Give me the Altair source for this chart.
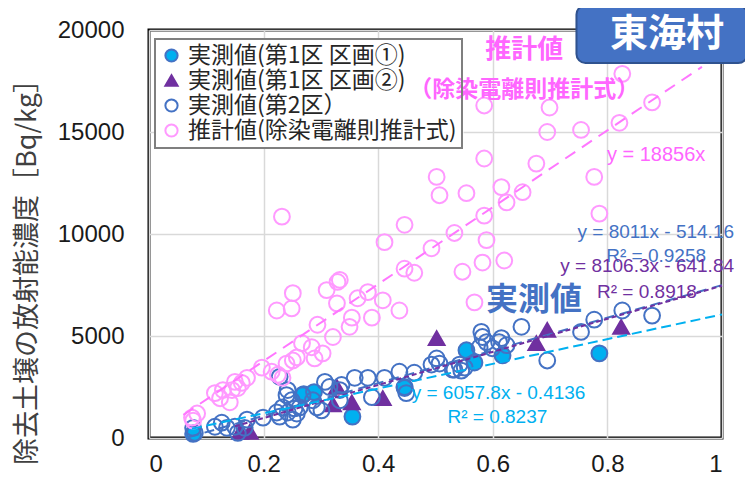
import altair as alt
import pandas as pd

# ---- series values ----
series_names = ["実測値(第1区 区画①)", "実測値(第1区 区画②)", "実測値(第2区）", "推計値(除染電離則推計式)"]

cyan_x = [0.077, 0.270, 0.288, 0.355, 0.446, 0.554, 0.568, 0.617, 0.786]
cyan_y = [200, 2150, 2250, 1050, 2500, 4300, 3700, 4050, 4150]

tri_x = [0.159, 0.176, 0.321, 0.328, 0.354, 0.408, 0.502, 0.676, 0.695, 0.824]
tri_y = [300, 300, 1650, 2500, 1750, 1950, 4900, 4650, 5300, 5450]

blue_x = [0.080, 0.077, 0.115, 0.127, 0.136, 0.150, 0.155, 0.171, 0.167, 0.199, 0.223, 0.228,
          0.233, 0.242, 0.251, 0.249, 0.254, 0.263, 0.258, 0.240, 0.228, 0.242, 0.268, 0.286,
          0.293, 0.307, 0.315, 0.301, 0.333, 0.333, 0.359, 0.382, 0.411, 0.437, 0.463, 0.446,
          0.449, 0.389, 0.336, 0.493, 0.502, 0.507, 0.533, 0.551, 0.542, 0.580, 0.582, 0.589,
          0.577, 0.599, 0.611, 0.624, 0.650, 0.615, 0.695, 0.754, 0.777, 0.826, 0.878, 0.530, 0.545]
blue_y = [250, 500, 550, 750, 500, 550, 250, 900, 500, 1000, 1250, 1050,
          1500, 1250, 900, 1850, 1450, 1500, 1200, 2100, 3000, 2350, 2100, 1850,
          1500, 2750, 2500, 1350, 2350, 1850, 2950, 2950, 2950, 3250, 3200, 2450,
          2200, 2000, 2600, 3600, 3900, 3650, 3350, 3450, 3600, 5200, 4950, 4700,
          4450, 4400, 4700, 4550, 5450, 4900, 3800, 5200, 5800, 6250, 6000, 3350, 3300]

pink_x = [0.585, 0.699, 0.826, 0.878, 0.695, 0.754, 0.821, 0.585, 0.676, 0.615, 0.652, 0.624,
          0.777, 0.786, 0.585, 0.589, 0.620, 0.582, 0.568, 0.502, 0.507, 0.554, 0.446, 0.411,
          0.533, 0.493, 0.446, 0.463, 0.547, 0.333, 0.364, 0.382, 0.408, 0.437, 0.389, 0.354,
          0.232, 0.251, 0.223, 0.249, 0.310, 0.329, 0.328, 0.294, 0.321, 0.350, 0.267, 0.284,
          0.258, 0.303, 0.289, 0.240, 0.251, 0.197, 0.214, 0.225, 0.233, 0.171, 0.162, 0.150,
          0.155, 0.145, 0.115, 0.124, 0.141, 0.129, 0.084, 0.075, 0.077]
pink_y = [16300, 16200, 17850, 16450, 15000, 15100, 15450, 13700, 13450, 12300, 12050, 11550,
          12800, 11000, 10900, 9700, 8700, 8600, 6650, 12800, 11900, 12000, 10450, 9600,
          10050, 9300, 8300, 8100, 8150, 7750, 6850, 7150, 6750, 6250, 5900, 5900,
          10850, 7100, 6250, 6350, 7250, 7650, 6600, 5550, 4950, 5450, 4650, 4450,
          3950, 4150, 3900, 3650, 3800, 3450, 3250, 3100, 2950, 2950, 2700, 2750,
          2450, 2350, 2200, 1950, 1750, 2350, 1200, 1000, 850]

# trendlines (coefficients as printed in the chart)
trend_names = ["推計値", "第2区", "区画②", "区画①"]
trend_slope = [18856, 8011, 8106.3, 6057.8]
trend_intercept = [0, -514.16, -641.84, -0.4136]
trend_x_start = [0.06, 0.07, 0.15, 0.075]
trend_x_end = [0.965, 1.0, 1.0, 1.0]

# tick values
x_ticks = [0, 0.2, 0.4, 0.6, 0.8, 1]
y_ticks = [0, 5000, 10000, 15000, 20000]

# ---- styles ----
stroke_colors = ["#4472C4", "#7030A0", "#4472C4", "#FF99FF"]
fill_colors = ["#00B0F0", "#7030A0", "transparent", "transparent"]
shapes = ["circle", "triangle-up", "circle", "circle"]
trend_colors = ["#FF77FF", "#4472C4", "#7030A0", "#00B0F0"]
trend_dash = [[12, 8], [10, 6], [5, 3], [10, 5]]

rows = []
for name, xs, ys in zip(series_names, [cyan_x, tri_x, blue_x, pink_x], [cyan_y, tri_y, blue_y, pink_y]):
    for xv, yv in zip(xs, ys):
        rows.append({"series": name, "x": xv, "y": yv})
df = pd.DataFrame(rows)

x_scale = alt.Scale(domain=[0, 1], nice=False, zero=False)
y_scale = alt.Scale(domain=[0, 20000], nice=False)

x_axis = alt.Axis(values=x_ticks, format="~g", title=None, labelPadding=14)
y_axis = alt.Axis(values=y_ticks, format="d", labelPadding=25,
                  title="除去土壌の放射能濃度［Bq/kg］", titleFont="Noto Sans CJK JP",
                  titleFontSize=27, titleFontWeight="normal", titleColor="#404040",
                  titleX=-122, titleY=235, titleAngle=270, titleBaseline="middle", titleAlign="center")

# white backing behind the legend area (legend itself is transparent so labels can sit over it)
legend_bg = pd.DataFrame({"x": [0.0105], "x2": [0.549], "y": [19550], "y2": [14250]})
layers = [alt.Chart(legend_bg).mark_rect(fill="white").encode(
    x=alt.X("x:Q", scale=x_scale, axis=x_axis), x2="x2:Q",
    y=alt.Y("y:Q", scale=y_scale, axis=y_axis), y2="y2:Q")]

points = alt.Chart(df).mark_point(filled=True, size=250, strokeWidth=2, opacity=1).encode(
    x=alt.X("x:Q", scale=x_scale, axis=x_axis),
    y=alt.Y("y:Q", scale=y_scale, axis=y_axis),
    stroke=alt.Stroke("series:N", scale=alt.Scale(domain=series_names, range=stroke_colors), title=None),
    fill=alt.Fill("series:N", scale=alt.Scale(domain=series_names, range=fill_colors), title=None),
    shape=alt.Shape("series:N", scale=alt.Scale(domain=series_names, range=shapes), title=None),
)
layers.append(points)

for i, nm in enumerate(trend_names):
    tdf = pd.DataFrame({"name": [nm, nm], "x": [trend_x_start[i], trend_x_end[i]],
                        "slope": [trend_slope[i]] * 2, "intercept": [trend_intercept[i]] * 2})
    line = alt.Chart(tdf).transform_calculate(
        yv="datum.slope * datum.x + datum.intercept"
    ).mark_line(color=trend_colors[i], strokeDash=trend_dash[i], strokeWidth=2).encode(
        x=alt.X("x:Q", scale=x_scale), y=alt.Y("yv:Q", scale=y_scale)
    )
    layers.append(line)

# badge box
badge = pd.DataFrame({"x": [0.746], "x2": [1.044], "y": [21200], "y2": [18380]})
layers.append(alt.Chart(badge).mark_rect(cornerRadius=9, fill="#4472C4", stroke="#2F528F", strokeWidth=2).encode(
    x=alt.X("x:Q", scale=x_scale), x2="x2:Q", y=alt.Y("y:Q", scale=y_scale), y2="y2:Q"))

# annotations
ann_text = ["推計値", "（除染電離則推計式）", "東海村", "y = 18856x", "y = 8011x - 514.16", "R² = 0.9258",
            "y = 8106.3x - 641.84", "R² = 0.8918", "実測値", "y = 6057.8x - 0.4136", "R² = 0.8237"]
ann_x = [0.655, 0.655, 0.904, 0.885, 1.021, 0.885, 1.021, 0.869, 0.672, 0.610, 0.608]
ann_y = [19000, 17050, 19750, 13870, 10090, 8920, 8430, 7150, 6760, 2200, 1030]
ann_color = ["#FF66FF", "#FF66FF", "white", "#FF66FF", "#4472C4", "#4472C4", "#7030A0", "#7030A0",
             "#4472C4", "#00B0F0", "#00B0F0"]
ann_size = [26, 23, 38, 20, 19, 19, 19, 19, 32, 19, 19]
ann_weight = ["bold", "bold", "bold", "normal", "normal", "normal", "normal", "normal", "bold", "normal", "normal"]
ann_align = ["center", "center", "center", "center", "right", "center", "right", "center", "center", "center", "center"]
ann_font = ["Noto Sans CJK JP", "Noto Sans CJK JP", "Noto Sans CJK JP", "Liberation Sans", "Liberation Sans",
            "Liberation Sans", "Liberation Sans", "Liberation Sans", "Noto Sans CJK JP", "Liberation Sans",
            "Liberation Sans"]

for i in range(len(ann_text)):
    adf = pd.DataFrame({"t": [ann_text[i]], "x": [ann_x[i]], "y": [ann_y[i]]})
    layers.append(alt.Chart(adf).mark_text(
        color=ann_color[i], fontSize=ann_size[i], fontWeight=ann_weight[i], align=ann_align[i],
        baseline="middle", font=ann_font[i]
    ).encode(x=alt.X("x:Q", scale=x_scale), y=alt.Y("y:Q", scale=y_scale), text="t:N"))

chart = alt.layer(*layers).properties(
    width=573, height=408,
    autosize=alt.AutoSizeParams(type="none"),
    padding={"left": 141, "top": 22, "right": 23, "bottom": 42},
).configure_view(
    stroke="black", strokeWidth=3
).configure_axis(
    gridColor="#D9D9D9", gridWidth=1.5, domain=False, ticks=False,
    labelFont="Liberation Sans", labelFontSize=24, labelColor="#1a1a1a"
).configure_legend(
    orient="none", legendX=6, legendY=9, padding=5, rowPadding=1,
    labelFont="Noto Sans CJK JP", labelFontSize=23, labelColor="#262626", labelOffset=5,
    labelLimit=0,
    symbolSize=150, symbolStrokeWidth=2, symbolOpacity=1,
    strokeColor="#7F7F7F", fillColor="transparent", strokeWidth=2
)

chart.save("out.html", embed_options={"renderer": "svg", "actions": False})
